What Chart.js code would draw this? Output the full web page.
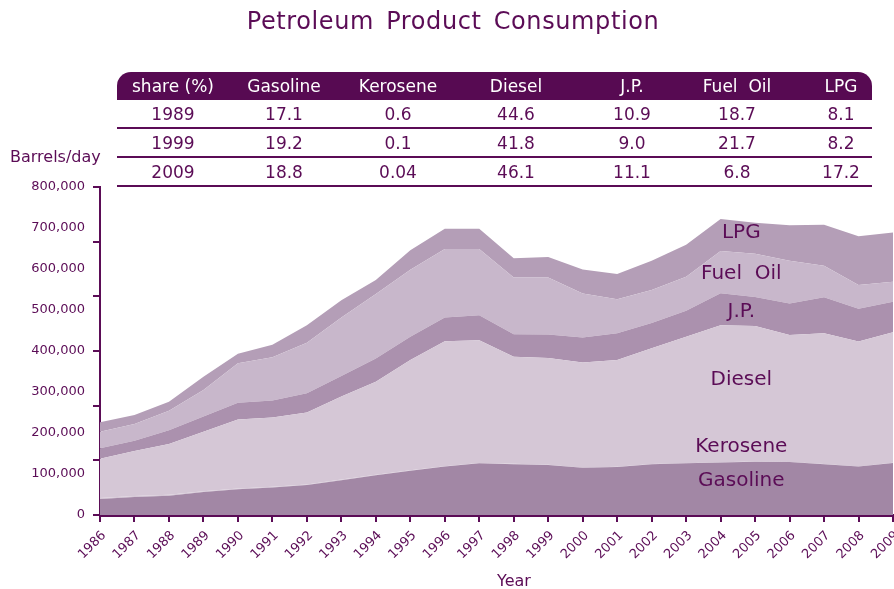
<!DOCTYPE html>
<html>
<head>
<meta charset="utf-8">
<script src="https://cdn.jsdelivr.net/npm/chart.js@4"></script>
<style>
  html, body { margin: 0; padding: 0; background: #fff; }
  #wrap { position: relative; width: 894px; height: 589px; font-family: "DejaVu Sans", sans-serif; color: #5b0c56; }
  #chartCanvas { position: absolute; left: 0; top: 0; }
  .txt { position: absolute; white-space: nowrap; }
  #title { left: 0; width: 906px; top: 6px; height: 30px; line-height: 30px; text-align: center; font-size: 24px; letter-spacing: 0.6px; word-spacing: 4px; }
  #unit { left: 10px; top: 147px; height: 20px; line-height: 20px; font-size: 16px; }
  #xTitle { left: 414px; width: 200px; top: 571px; height: 20px; line-height: 20px; text-align: center; font-size: 16px; }
  #shareTable { position: absolute; left: 117px; top: 72px; width: 755px; }
  .row { position: relative; height: 27px; border-bottom: 2px solid #5b0c56; font-size: 17px; }
  .row.head { height: 28px; border-bottom: none; background: #570a52; color: #fff; border-radius: 14px 14px 0 0; }
  .cell { position: absolute; top: 0; width: 110px; margin-left: -55px; text-align: center; line-height: 29px; }
</style>
</head>
<body>
<div id="wrap">
  <canvas id="chartCanvas" width="894" height="589"></canvas>
  <div class="txt" id="title">Petroleum Product Consumption</div>
  <div class="txt" id="unit">Barrels/day</div>
  <div class="txt" id="xTitle">Year</div>
  <div id="shareTable"></div>
</div>
<script>
// years on the x axis
const years = ['1986', '1987', '1988', '1989', '1990', '1991', '1992', '1993', '1994', '1995', '1996', '1997',
  '1998', '1999', '2000', '2001', '2002', '2003', '2004', '2005', '2006', '2007', '2008', '2009'];

// barrels/day per product
const gasoline = [39000, 44000, 47000, 56000, 63000, 67000, 73000, 85000, 97000, 108000, 118000, 126000,
  124000, 122000, 115000, 117000, 124000, 126000, 128000, 130000, 129000, 124000, 118000, 127000];
const kerosene = [2500, 2500, 2200, 2000, 1800, 1600, 1500, 1300, 1200, 1000, 900, 800,
  700, 600, 500, 500, 400, 400, 400, 300, 300, 300, 300, 300];
const diesel = [95500, 109500, 123800, 145000, 168200, 169400, 175500, 202700, 226800, 269000, 305100, 299200,
  261300, 260400, 256500, 260500, 282600, 308600, 334600, 330700, 309700, 318700, 304700, 318700];
const jp = [26000, 25000, 34000, 37000, 41000, 41000, 47000, 50000, 57000, 57000, 58000, 61000,
  55000, 57000, 61000, 65000, 61000, 63000, 78000, 71000, 77000, 88000, 80000, 74000];
const fuelOil = [40000, 41000, 47000, 65000, 96000, 106000, 123000, 143000, 157000, 163000, 167000, 162000,
  138000, 139000, 107000, 83000, 81000, 83000, 103000, 105000, 104000, 77000, 58000, 49000];
const lpg = [23000, 22000, 22000, 32000, 23000, 30000, 43000, 42000, 34000, 48000, 49000, 49000,
  47000, 50000, 59000, 62000, 71000, 78000, 78000, 76000, 87000, 100000, 119000, 120000];

// share table
const tableHeader = ['share (%)', 'Gasoline', 'Kerosene', 'Diesel', 'J.P.', 'Fuel  Oil', 'LPG'];
const shareYears = ['1989', '1999', '2009'];
const shareGasoline = ['17.1', '19.2', '18.8'];
const shareKerosene = ['0.6', '0.1', '0.04'];
const shareDiesel = ['44.6', '41.8', '46.1'];
const shareJP = ['10.9', '9.0', '11.1'];
const shareFuelOil = ['18.7', '21.7', '6.8'];
const shareLPG = ['8.1', '8.2', '17.2'];

const INK = '#5b0c56';
const Y_MAX = 800000;

// build the table
const colCenters = [56, 167, 281, 399, 515, 620, 724];
const tbl = document.getElementById('shareTable');
const addRow = (cells, head) => {
  const row = document.createElement('div');
  row.className = head ? 'row head' : 'row';
  cells.forEach((t, i) => {
    const c = document.createElement('div');
    c.className = 'cell';
    c.style.left = colCenters[i] + 'px';
    c.style.whiteSpace = 'pre';
    c.textContent = t;
    row.appendChild(c);
  });
  tbl.appendChild(row);
};
addRow(tableHeader, true);
shareYears.forEach((yr, i) => {
  addRow([yr, shareGasoline[i], shareKerosene[i], shareDiesel[i], shareJP[i], shareFuelOil[i], shareLPG[i]], false);
});

// labels inside the bands: [text, x index, y value]
const bandLabels = [
  ['LPG', 18.6, 688000],
  ['Fuel  Oil', 18.6, 588000],
  ['J.P.', 18.6, 495000],
  ['Diesel', 18.6, 329000],
  ['Kerosene', 18.6, 166000],
  ['Gasoline', 18.6, 83000]
];

const extras = {
  id: 'extras',
  afterDraw(chart) {
    const { ctx, scales: { x, y } } = chart;
    ctx.save();
    ctx.strokeStyle = INK;
    ctx.lineWidth = 2;
    // axis tick marks split the range into six parts
    for (let i = 0; i <= 6; i++) {
      const py = Math.round(y.getPixelForValue(Y_MAX * i / 6));
      ctx.beginPath();
      ctx.moveTo(x.left - 7, py);
      ctx.lineTo(x.left, py);
      ctx.stroke();
    }
    ctx.font = '20px "DejaVu Sans"';
    ctx.fillStyle = INK;
    ctx.textAlign = 'center';
    ctx.textBaseline = 'middle';
    bandLabels.forEach(([t, xi, yv]) => {
      ctx.fillText(t, x.getPixelForValue(xi), y.getPixelForValue(yv));
    });
    ctx.restore();
  }
};

const mk = (label, data, color, fill) => ({
  label, data, fill,
  backgroundColor: color,
  borderColor: color,
  borderWidth: 0,
  pointRadius: 0,
  tension: 0
});

const ctx = document.getElementById('chartCanvas').getContext('2d');
new Chart(ctx, {
  type: 'line',
  data: {
    labels: years,
    datasets: [
      mk('Gasoline', gasoline, '#a287a5', 'origin'),
      mk('Kerosene', kerosene, '#d5c7d6', '-1'),
      mk('Diesel', diesel, '#d5c7d6', '-1'),
      mk('J.P.', jp, '#ab91ae', '-1'),
      mk('Fuel Oil', fuelOil, '#c8b7cb', '-1'),
      mk('LPG', lpg, '#b49eb7', '-1')
    ]
  },
  options: {
    responsive: false,
    animation: false,
    layout: { padding: { top: 187, right: 1, left: 0, bottom: 0 } },
    plugins: {
      legend: { display: false },
      tooltip: { enabled: false }
    },
    scales: {
      x: {
        offset: false,
        grid: { drawOnChartArea: false, drawTicks: true, tickLength: 7, color: INK, lineWidth: 2 },
        border: { display: true, color: INK, width: 3 },
        ticks: {
          autoSkip: false, minRotation: 45, maxRotation: 45, padding: 6, labelOffset: 4,
          color: INK, font: { family: 'DejaVu Sans', size: 13 }
        },
        afterFit: (s) => { s.height = 74; s.paddingLeft = 0; s.paddingRight = 0; }
      },
      y: {
        stacked: true,
        min: 0,
        max: Y_MAX,
        grid: { display: true, drawOnChartArea: false, drawTicks: false },
        border: { display: true, color: INK, width: 2 },
        ticks: {
          stepSize: 100000, padding: 15, color: INK,
          font: { family: 'DejaVu Sans', size: 13 },
          callback: (v) => v.toLocaleString('en-US')
        },
        afterFit: (s) => { s.width = 100; }
      }
    }
  },
  plugins: [extras]
});
</script>
</body>
</html>
